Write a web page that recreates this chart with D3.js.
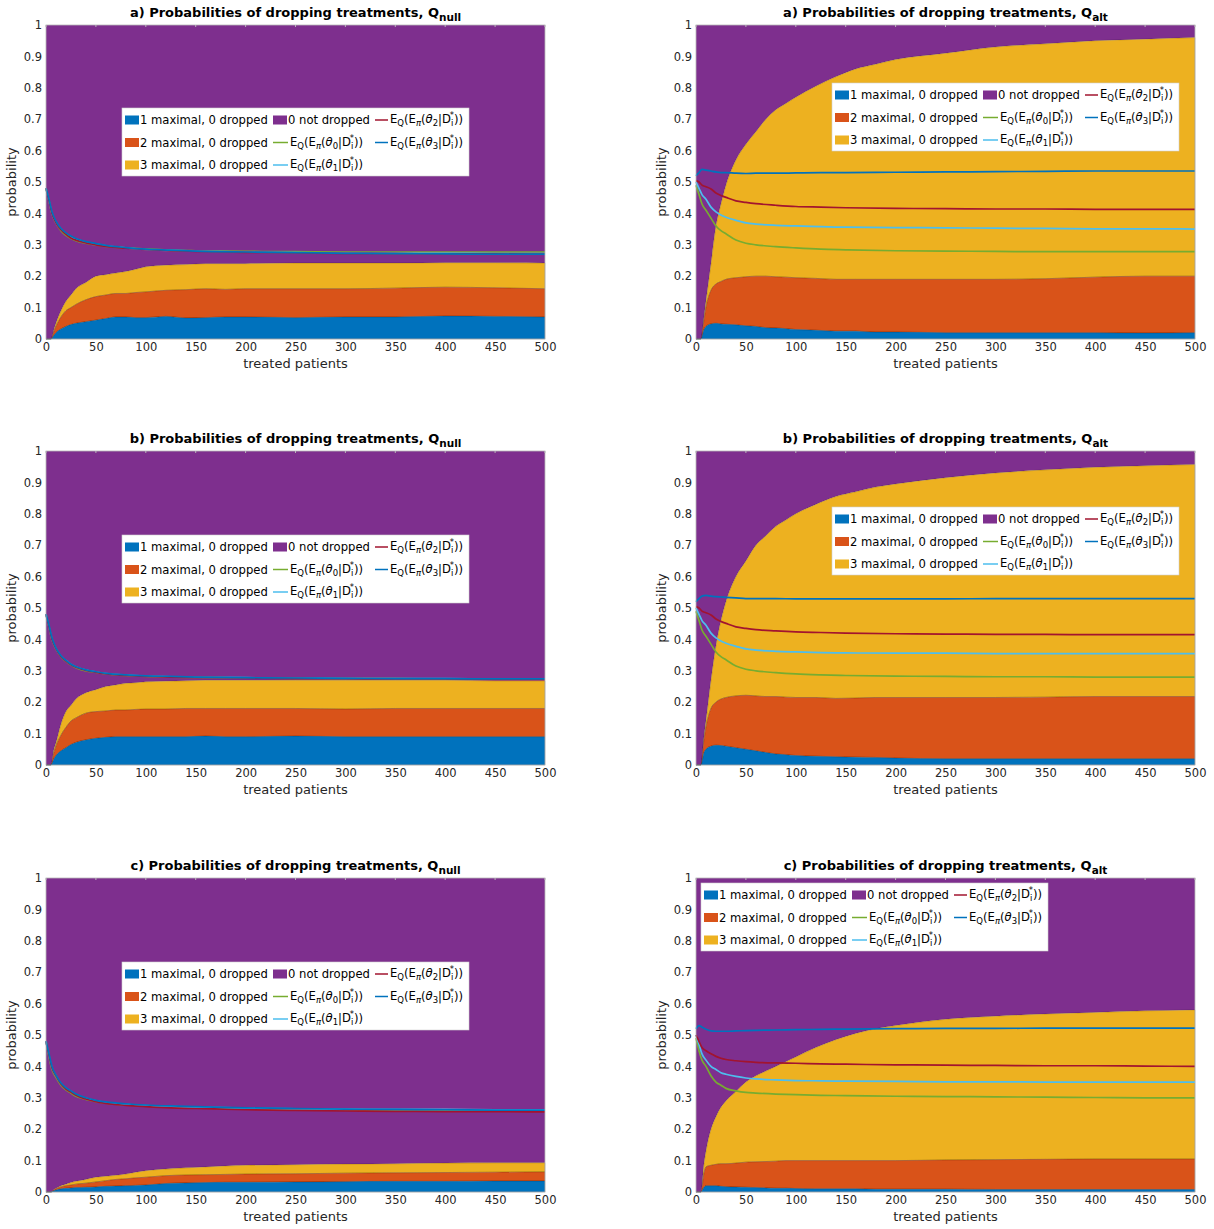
<!DOCTYPE html>
<html><head><meta charset="utf-8">
<script src="https://cdn.jsdelivr.net/npm/d3@7"></script>
<style>body{margin:0;background:#fff}svg{display:block}text{font-family:"DejaVu Sans",sans-serif}</style>
</head><body>
<svg id="c" width="1214" height="1229"></svg>
<script>
// ---------- shared x grids ----------
const areaX = [0,5,8,10,15,20,25,30,40,50,60,70,80,90,100,120,140,160,180,200,250,300,350,400,450,500];
const lineX = [0,3,6,10,15,20,25,30,40,50,60,80,100,125,150,200,250,300,350,400,450,500];
const xTicks = [0,50,100,150,200,250,300,350,400,450,500];
const yTicks = [0,0.1,0.2,0.3,0.4,0.5,0.6,0.7,0.8,0.9,1];
const seriesNames = ["1 maximal, 0 dropped","2 maximal, 0 dropped","3 maximal, 0 dropped","0 not dropped"];

// ---------- a) Q_null ----------
const aNull_max1 = [0,0,.012,.02,.032,.04,.046,.05,.055,.06,.065,.07,.07,.068,.068,.072,.067,.068,.07,.07,.068,.07,.07,.073,.072,.07];
const aNull_max2 = [0,0,.013,.02,.038,.05,.054,.06,.07,.075,.075,.075,.075,.08,.082,.083,.09,.092,.088,.09,.092,.09,.092,.092,.091,.09];
const aNull_max3 = [0,0,.005,.01,.02,.03,.04,.05,.055,.065,.065,.065,.07,.074,.08,.08,.08,.08,.082,.08,.082,.082,.08,.078,.08,.082];
const aNull_t0 = [.48,.44,.40,.37,.345,.33,.32,.313,.305,.30,.295,.29,.287,.283,.281,.279,.278,.277,.277,.277,.277,.277];
const aNull_t1 = [.48,.44,.40,.37,.35,.335,.325,.318,.308,.302,.297,.29,.285,.282,.28,.277,.275,.274,.273,.273,.272,.272];
const aNull_t2 = [.48,.44,.40,.37,.348,.333,.322,.315,.306,.30,.295,.289,.285,.281,.279,.276,.274,.273,.272,.271,.271,.270];
const aNull_t3 = [.48,.445,.405,.375,.352,.338,.328,.32,.31,.304,.298,.291,.286,.283,.28,.277,.275,.273,.272,.271,.27,.27];

// ---------- a) Q_alt ----------
const aAlt_max1 = [0,0,.03,.04,.048,.05,.048,.047,.045,.042,.04,.036,.035,.033,.03,.028,.025,.025,.022,.022,.02,.02,.02,.02,.019,.02];
const aAlt_max2 = [0,0,.03,.06,.107,.125,.135,.143,.15,.156,.16,.164,.163,.164,.165,.165,.165,.165,.168,.168,.17,.17,.172,.177,.181,.18];
const aAlt_max3 = [0,0,.01,.02,.085,.185,.247,.30,.375,.422,.46,.50,.532,.553,.575,.612,.645,.67,.685,.70,.72,.74,.748,.753,.755,.76];
const aAlt_t0 = [.49,.46,.43,.41,.385,.36,.345,.335,.315,.305,.30,.294,.29,.286,.284,.281,.28,.279,.278,.278,.278,.278];
const aAlt_t1 = [.50,.48,.46,.445,.42,.405,.395,.388,.378,.37,.366,.362,.36,.358,.356,.355,.354,.353,.352,.351,.351,.350];
const aAlt_t2 = [.505,.50,.49,.485,.478,.465,.457,.451,.44,.435,.431,.426,.422,.42,.418,.416,.415,.414,.414,.413,.413,.413];
const aAlt_t3 = [.52,.53,.54,.538,.535,.532,.53,.53,.528,.527,.528,.528,.529,.53,.53,.531,.532,.533,.534,.535,.535,.535];

// ---------- b) Q_null ----------
const bNull_max1 = [0,0,.02,.03,.045,.055,.065,.072,.08,.085,.088,.09,.09,.09,.09,.09,.09,.092,.09,.09,.092,.09,.09,.09,.09,.09];
const bNull_max2 = [0,0,.02,.03,.05,.065,.075,.078,.085,.085,.084,.085,.085,.087,.088,.088,.09,.088,.09,.09,.088,.088,.09,.09,.09,.09];
const bNull_max3 = [0,0,.01,.01,.035,.05,.05,.06,.065,.07,.078,.08,.085,.085,.087,.089,.088,.09,.09,.09,.09,.092,.09,.09,.088,.088];
const bNull_t0 = [.48,.44,.40,.37,.345,.33,.318,.31,.30,.295,.29,.285,.282,.28,.279,.277,.276,.275,.275,.274,.274,.274];
const bNull_t1 = [.48,.44,.40,.37,.347,.332,.32,.312,.302,.296,.291,.286,.283,.281,.28,.278,.277,.276,.275,.275,.274,.274];
const bNull_t2 = [.48,.44,.40,.37,.346,.331,.319,.311,.301,.295,.29,.285,.282,.28,.279,.277,.276,.275,.274,.274,.273,.273];
const bNull_t3 = [.48,.445,.405,.372,.348,.333,.321,.313,.303,.297,.292,.287,.284,.282,.28,.278,.277,.276,.275,.275,.274,.274];

// ---------- b) Q_alt ----------
const bAlt_max1 = [0,0,.04,.05,.06,.063,.062,.06,.055,.05,.045,.04,.035,.033,.03,.028,.026,.025,.024,.022,.02,.02,.02,.02,.02,.02];
const bAlt_max2 = [0,0,.04,.07,.12,.137,.148,.155,.165,.172,.175,.178,.183,.183,.185,.187,.186,.188,.191,.193,.195,.195,.196,.198,.198,.198];
const bAlt_max3 = [0,0,.01,.02,.09,.18,.25,.305,.38,.428,.48,.512,.542,.564,.585,.615,.643,.657,.67,.68,.70,.715,.724,.73,.735,.739];
const bAlt_t0 = [.49,.46,.43,.41,.385,.36,.345,.335,.315,.305,.30,.294,.29,.287,.285,.283,.282,.281,.281,.28,.28,.28];
const bAlt_t1 = [.50,.48,.46,.445,.42,.405,.395,.388,.378,.37,.366,.362,.36,.358,.357,.356,.356,.355,.355,.355,.355,.355];
const bAlt_t2 = [.505,.50,.49,.485,.478,.465,.457,.451,.44,.435,.431,.427,.424,.422,.42,.418,.417,.416,.416,.415,.415,.415];
const bAlt_t3 = [.52,.53,.538,.54,.538,.536,.535,.534,.532,.53,.53,.53,.529,.529,.529,.529,.529,.53,.53,.53,.53,.53];

// ---------- c) Q_null ----------
const cNull_max1 = [0,0,.004,.006,.01,.012,.013,.014,.015,.016,.018,.019,.02,.021,.022,.027,.029,.03,.031,.031,.032,.033,.034,.034,.035,.035];
const cNull_max2 = [0,0,.002,.004,.006,.008,.009,.011,.013,.016,.018,.021,.022,.024,.025,.025,.025,.025,.025,.026,.026,.027,.027,.028,.028,.029];
const cNull_max3 = [0,0,.002,.002,.004,.005,.008,.009,.012,.015,.014,.013,.015,.018,.021,.021,.023,.025,.027,.028,.029,.029,.029,.03,.03,.029];
const cNull_t0 = [.48,.43,.39,.365,.34,.325,.315,.305,.295,.288,.283,.277,.274,.27,.268,.265,.263,.262,.261,.261,.26,.26];
const cNull_t1 = [.48,.435,.395,.37,.345,.33,.32,.31,.298,.29,.285,.279,.275,.272,.27,.267,.265,.264,.263,.263,.262,.262];
const cNull_t2 = [.48,.435,.395,.37,.344,.328,.318,.308,.296,.288,.282,.276,.272,.268,.266,.262,.26,.258,.257,.256,.256,.255];
const cNull_t3 = [.48,.44,.40,.372,.347,.332,.322,.312,.30,.292,.287,.281,.277,.274,.272,.268,.266,.264,.263,.262,.261,.261];

// ---------- c) Q_alt ----------
const cAlt_max1 = [0,0,.015,.02,.02,.02,.018,.017,.016,.015,.014,.013,.012,.012,.011,.01,.01,.01,.009,.009,.009,.008,.008,.008,.008,.008];
const cAlt_max2 = [0,0,.045,.06,.065,.068,.072,.073,.076,.08,.082,.084,.086,.088,.089,.09,.09,.09,.091,.091,.093,.095,.096,.097,.097,.097];
const cAlt_max3 = [0,0,.03,.05,.115,.152,.18,.20,.228,.255,.274,.288,.302,.315,.33,.36,.385,.405,.42,.43,.448,.457,.463,.467,.472,.475];
const cAlt_t0 = [.49,.45,.42,.40,.37,.35,.34,.33,.322,.317,.315,.312,.31,.308,.307,.305,.304,.303,.302,.301,.30,.30];
const cAlt_t1 = [.50,.47,.44,.42,.40,.39,.38,.375,.368,.363,.36,.357,.355,.354,.353,.352,.351,.351,.35,.35,.35,.35];
const cAlt_t2 = [.50,.48,.46,.45,.44,.432,.426,.422,.418,.415,.413,.411,.41,.408,.407,.405,.404,.403,.402,.402,.401,.40];
const cAlt_t3 = [.52,.53,.525,.518,.513,.512,.512,.512,.513,.514,.515,.516,.517,.518,.519,.52,.521,.521,.522,.522,.522,.522];

// ---------- styling / layout ----------
const areaColors = ["#0072BD","#D95319","#EDB120","#7E2F8E"];
const lineColors = ["#77AC30","#4DBEEE","#A2142F","#0072BD"]; // theta0..theta3
const panels = [
  {tag:"a)", sub:"null", left:46,  top:25,  layers:[aNull_max1,aNull_max2,aNull_max3], lines:[aNull_t0,aNull_t1,aNull_t2,aNull_t3], lg:[122,108]},
  {tag:"a)", sub:"alt",  left:696, top:25,  layers:[aAlt_max1,aAlt_max2,aAlt_max3],   lines:[aAlt_t0,aAlt_t1,aAlt_t2,aAlt_t3],     lg:[832,83]},
  {tag:"b)", sub:"null", left:46,  top:451, layers:[bNull_max1,bNull_max2,bNull_max3], lines:[bNull_t0,bNull_t1,bNull_t2,bNull_t3], lg:[122,535]},
  {tag:"b)", sub:"alt",  left:696, top:451, layers:[bAlt_max1,bAlt_max2,bAlt_max3],   lines:[bAlt_t0,bAlt_t1,bAlt_t2,bAlt_t3],     lg:[832,507]},
  {tag:"c)", sub:"null", left:46,  top:878, layers:[cNull_max1,cNull_max2,cNull_max3], lines:[cNull_t0,cNull_t1,cNull_t2,cNull_t3], lg:[122,962]},
  {tag:"c)", sub:"alt",  left:696, top:878, layers:[cAlt_max1,cAlt_max2,cAlt_max3],   lines:[cAlt_t0,cAlt_t1,cAlt_t2,cAlt_t3],     lg:[701,883]}
];
const W = 499, H = 314;
const LF = 11.6; // legend font size
const svg = d3.select("#c");

function eqLabel(g, x, y, k) {
  const t = g.append("text").attr("x", x).attr("y", y).attr("font-size", LF).attr("fill", "#000");
  t.append("tspan").text("E");
  t.append("tspan").attr("font-size", 8.5).attr("dy", 3).text("Q");
  t.append("tspan").attr("dy", -3).text("(E");
  t.append("tspan").attr("font-size", 8.5).attr("font-style", "italic").attr("dy", 3).text("π");
  t.append("tspan").attr("dy", -3).text("(");
  t.append("tspan").attr("font-style", "italic").text("θ");
  t.append("tspan").attr("font-size", 8.5).attr("dy", 3).text(k);
  t.append("tspan").attr("dy", -3).text("|D");
  t.append("tspan").attr("font-size", 8.5).attr("dy", 3).text("i");
  t.append("tspan").attr("font-size", 8.5).attr("dx", -3.5).attr("dy", -8).text("*");
  t.append("tspan").attr("dy", 5).text("))");
}

panels.forEach(p => {
  const x = d3.scaleLinear().domain([0, 500]).range([p.left, p.left + W]);
  const y = d3.scaleLinear().domain([0, 1]).range([p.top + H, p.top]);
  const g = svg.append("g");

  const rows = areaX.map((xv, i) => ({x: xv, m1: p.layers[0][i], m2: p.layers[1][i], m3: p.layers[2][i]}));
  const stack = d3.stack().keys(["m1", "m2", "m3"])(rows);
  g.append("path").datum(stack[2])
    .attr("d", d3.area().x(d => x(d.data.x)).y0(d => y(d[1])).y1(() => y(1)).curve(d3.curveMonotoneX))
    .attr("fill", areaColors[3]);
  stack.slice().reverse().forEach((s, ri) => {
    const idx = 2 - ri;
    g.append("path").datum(s)
      .attr("d", d3.area().x(d => x(d.data.x)).y0(d => y(d[0])).y1(d => y(d[1])).curve(d3.curveMonotoneX))
      .attr("fill", areaColors[idx])
      .attr("stroke", "rgba(0,0,0,0.3)").attr("stroke-width", 0.6);
  });

  [0, 1, 2, 3].forEach(k => {
    g.append("path").datum(p.lines[k])
      .attr("d", d3.line().x((d, i) => x(lineX[i])).y(d => y(d)).curve(d3.curveMonotoneX))
      .attr("fill", "none").attr("stroke", lineColors[k]).attr("stroke-width", 1.7);
  });

  g.append("rect").attr("x", p.left).attr("y", p.top).attr("width", W).attr("height", H)
    .attr("fill", "none").attr("stroke", "#b8b8b8").attr("stroke-width", 0.8);

  const xa = g.append("g").attr("transform", `translate(0,${p.top + H})`)
    .call(d3.axisBottom(x).tickValues(xTicks).tickSize(0).tickPadding(4).tickFormat(d3.format("d")));
  xa.select(".domain").remove();
  xa.selectAll("text").attr("font-size", 11.5).attr("fill", "#262626").attr("font-family", "DejaVu Sans");
  const ya = g.append("g").attr("transform", `translate(${p.left},0)`)
    .call(d3.axisLeft(y).tickValues(yTicks).tickSize(0).tickPadding(4).tickFormat(d => d === 0 ? "0" : d === 1 ? "1" : d3.format(".1f")(d)));
  ya.select(".domain").remove();
  ya.selectAll("text").attr("font-size", 11.5).attr("fill", "#262626").attr("font-family", "DejaVu Sans");
  xTicks.forEach(v => g.append("line").attr("x1", x(v)).attr("x2", x(v)).attr("y1", p.top).attr("y2", p.top + 2).attr("stroke", "#b8b8b8"));

  g.append("text").attr("x", p.left + W / 2).attr("y", p.top + H + 29).attr("text-anchor", "middle")
    .attr("font-size", 13).attr("fill", "#262626").text("treated patients");
  g.append("text").attr("transform", `translate(${p.left - 30},${p.top + H / 2}) rotate(-90)`).attr("text-anchor", "middle")
    .attr("font-size", 13).attr("fill", "#262626").text("probability");
  const tt = g.append("text").attr("x", p.left + W / 2).attr("y", p.top - 8).attr("text-anchor", "middle")
    .attr("font-size", 13).attr("font-weight", "bold").attr("fill", "#000");
  tt.append("tspan").text(`${p.tag} Probabilities of dropping treatments, Q`);
  tt.append("tspan").attr("font-size", 10.5).attr("dy", 4).text(p.sub);

  const [lx, ly] = p.lg;
  const lg = g.append("g");
  lg.append("rect").attr("x", lx).attr("y", ly).attr("width", 347).attr("height", 68)
    .attr("fill", "#fff").attr("stroke", "#d0d0d0").attr("stroke-width", 0.6);
  const rowY = [ly + 12, ly + 34.5, ly + 57];
  [0, 1, 2].forEach(i => {
    lg.append("rect").attr("x", lx + 3).attr("y", rowY[i] - 4.5).attr("width", 14).attr("height", 9).attr("fill", areaColors[i]);
    lg.append("text").attr("x", lx + 18).attr("y", rowY[i] + 4).attr("font-size", LF).attr("fill", "#000").text(seriesNames[i]);
  });
  lg.append("rect").attr("x", lx + 151).attr("y", rowY[0] - 4.5).attr("width", 14).attr("height", 9).attr("fill", areaColors[3]);
  lg.append("text").attr("x", lx + 166).attr("y", rowY[0] + 4).attr("font-size", LF).attr("fill", "#000").text(seriesNames[3]);
  [[0, 1], [1, 2]].forEach(([k, r]) => {
    lg.append("line").attr("x1", lx + 151).attr("x2", lx + 166).attr("y1", rowY[r]).attr("y2", rowY[r]).attr("stroke", lineColors[k]).attr("stroke-width", 1.5);
    eqLabel(lg, lx + 168, rowY[r] + 3, String(k));
  });
  [[2, 0], [3, 1]].forEach(([k, r]) => {
    lg.append("line").attr("x1", lx + 253).attr("x2", lx + 266).attr("y1", rowY[r]).attr("y2", rowY[r]).attr("stroke", lineColors[k]).attr("stroke-width", 1.5);
    eqLabel(lg, lx + 268, rowY[r] + 3, String(k));
  });
});
</script>
</body></html>
